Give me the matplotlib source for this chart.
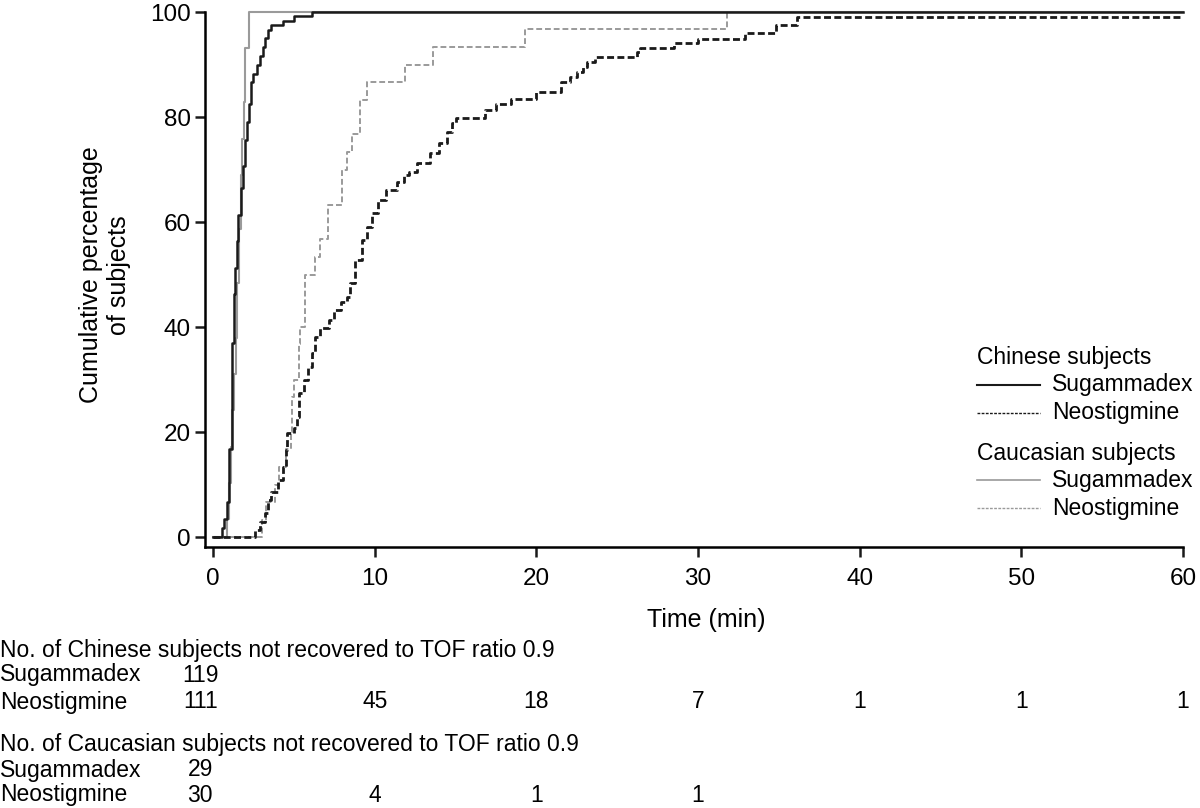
import matplotlib
matplotlib.use("Agg")
import matplotlib.pyplot as plt
from matplotlib.lines import Line2D
import matplotlib.transforms as mtransforms

plt.rcParams['font.family'] = ['Liberation Sans', 'DejaVu Sans']

# cumulative % of subjects recovered (step curves)
cn_sug_t = [0.55, 0.7, 0.85, 1.0, 1.15, 1.2, 1.3, 1.36, 1.45, 1.55, 1.7, 1.85, 2.0, 2.1,
            2.2, 2.35, 2.5, 2.7, 2.9, 3.1, 3.2, 3.4, 3.6, 4.3, 5.0, 6.1]
cn_sug_p = [1.7, 3.4, 6.7, 16.8, 28.6, 37.0, 46.2, 51.3, 56.3, 61.3, 66.4, 70.6, 75.6, 79.0,
            82.4, 86.6, 88.2, 89.9, 91.6, 93.3, 95.0, 96.6, 97.5, 98.3, 99.2, 100]

cn_neo_t = [2.6, 2.9, 3.2, 3.4, 3.6, 4.0, 4.3, 4.5, 4.6, 5.0, 5.2, 5.3, 5.6, 5.9, 6.1, 6.3,
            6.6, 7.2, 7.5, 7.9, 8.3, 8.5, 8.8, 9.2, 9.5, 9.8, 10.2, 10.7, 11.4, 11.8, 12.1,
            12.6, 13.4, 14.0, 14.5, 14.8, 15.0, 16.8, 17.5, 18.4, 20.0, 21.5, 22.1, 22.5,
            22.9, 23.1, 23.6, 26.2, 26.4, 28.5, 30.0, 32.9, 34.8, 36.1]
cn_neo_p = [1.3, 2.9, 4.6, 7.0, 8.5, 10.9, 13.4, 16.6, 19.8, 20.8, 22.9, 27.4, 29.9, 32.4,
            35.0, 38.1, 39.8, 41.3, 43.2, 44.8, 45.7, 48.4, 52.8, 56.6, 59.0, 61.7, 64.2,
            66.1, 67.6, 69.0, 69.5, 71.2, 73.1, 75.0, 77.1, 78.8, 79.8, 81.3, 82.5, 83.4,
            84.8, 86.7, 87.6, 88.6, 89.5, 90.5, 91.4, 92.4, 93.1, 94.1, 94.9, 96.0, 97.5, 99.1]

ca_sug_t = [0.85, 1.0, 1.1, 1.2, 1.3, 1.4, 1.5, 1.6, 1.7, 1.8, 1.9, 2.0, 2.2]
ca_sug_p = [3.4, 10.3, 17.2, 24.1, 31.0, 37.9, 48.3, 58.6, 69.0, 75.9, 82.8, 93.1, 100]

ca_neo_t = [3.0, 3.3, 3.8, 4.1, 4.5, 4.8, 4.9, 5.0, 5.3, 5.4, 5.7, 6.3, 6.6, 7.1, 8.0, 8.3,
            8.6, 9.1, 9.5, 11.9, 13.6, 19.3, 31.8]
ca_neo_p = [3.3, 6.7, 10.0, 13.3, 16.7, 20.0, 26.7, 30.0, 36.7, 40.0, 50.0, 53.3, 56.7, 63.3,
            70.0, 73.3, 76.7, 83.3, 86.7, 90.0, 93.3, 96.7, 100]

# numbers at risk
risk_times = [0, 10, 20, 30, 40, 50, 60]
cn_sug_risk = [119]
cn_neo_risk = [111, 45, 18, 7, 1, 1, 1]
ca_sug_risk = [29]
ca_neo_risk = [30, 4, 1, 1]

W, H = 1200, 808
def fx(px):
    return px / W
def fy(py):
    return 1 - py / H

fig = plt.figure(figsize=(12, 8.08), dpi=100)
ax = fig.add_axes([fx(205), fy(547), (1183 - 205) / W, (547 - 12) / H])

def curve(t, p):
    return [0] + t + [60], [0] + p + [p[-1]]

gray = '#9a9a9a'
x, y = curve(ca_sug_t, ca_sug_p)
ax.step(x, y, where='post', color=gray, lw=1.5, clip_on=False)
x, y = curve(ca_neo_t, ca_neo_p)
ax.step(x, y, where='post', color=gray, lw=1.4, dashes=(3, 1.5), clip_on=False)
x, y = curve(cn_neo_t, cn_neo_p)
ax.step(x, y, where='post', color='#1a1a1a', lw=2.0, dashes=(2.5, 1.2), clip_on=False)
x, y = curve(cn_sug_t, cn_sug_p)
ax.step(x, y, where='post', color='#1a1a1a', lw=1.8, clip_on=False)

ax.set_xlim(-0.5, 60)
ax.set_ylim(-1.9, 100)
ax.set_xticks(range(0, 61, 10))
ax.set_yticks(range(0, 101, 20))
for s in ['top', 'right']:
    ax.spines[s].set_visible(False)
for s in ['left', 'bottom']:
    ax.spines[s].set_linewidth(1.8)
ax.tick_params(width=1.8, length=7, labelsize=17.5, color='#1a1a1a')
ax.tick_params(axis='x', pad=8)
ax.tick_params(axis='y', pad=3)

fig.text(fx(706), fy(620), 'Time (min)', ha='center', va='center', fontsize=18)
fig.text(fx(105), fy(275), 'Cumulative percentage\nof subjects', ha='center', va='center',
         rotation=90, fontsize=18, linespacing=1.25)

# legend
def leg_line(py, **kw):
    fig.add_artist(Line2D([fx(977), fx(1040)], [fy(py), fy(py)], transform=fig.transFigure, **kw))

fs_leg = 16.5
fig.text(fx(977), fy(357), 'Chinese subjects', va='center', fontsize=fs_leg)
leg_line(385, color='#1a1a1a', lw=1.5)
fig.text(fx(1052), fy(385), 'Sugammadex', va='center', fontsize=fs_leg)
leg_line(413, color='#1a1a1a', lw=1.0, dashes=(2, 1))
fig.text(fx(1052), fy(413), 'Neostigmine', va='center', fontsize=fs_leg)
fig.text(fx(977), fy(453), 'Caucasian subjects', va='center', fontsize=fs_leg)
leg_line(480, color=gray, lw=1.2)
fig.text(fx(1052), fy(480), 'Sugammadex', va='center', fontsize=fs_leg)
leg_line(508, color=gray, lw=1.0, dashes=(2, 1))
fig.text(fx(1052), fy(508), 'Neostigmine', va='center', fontsize=fs_leg)

# numbers at risk table
fs_tab = 16.5
trans = mtransforms.blended_transform_factory(ax.transData, fig.transFigure)
rows = [
    (650, 'No. of Chinese subjects not recovered to TOF ratio 0.9', None),
    (675, 'Sugammadex', cn_sug_risk),
    (702, 'Neostigmine', cn_neo_risk),
    (745, 'No. of Caucasian subjects not recovered to TOF ratio 0.9', None),
    (770, 'Sugammadex', ca_sug_risk),
    (795, 'Neostigmine', ca_neo_risk),
]
for py, label, vals in rows:
    fig.text(0.0, fy(py), label, ha='left', va='center', fontsize=fs_tab)
    if vals:
        for t, v in zip(risk_times, vals):
            xt = t - 0.8 if t == 0 else t
            ax.text(xt, fy(py), str(v), transform=trans, ha='center', va='center',
                    fontsize=fs_tab)

fig.savefig('out.png', dpi=100)
